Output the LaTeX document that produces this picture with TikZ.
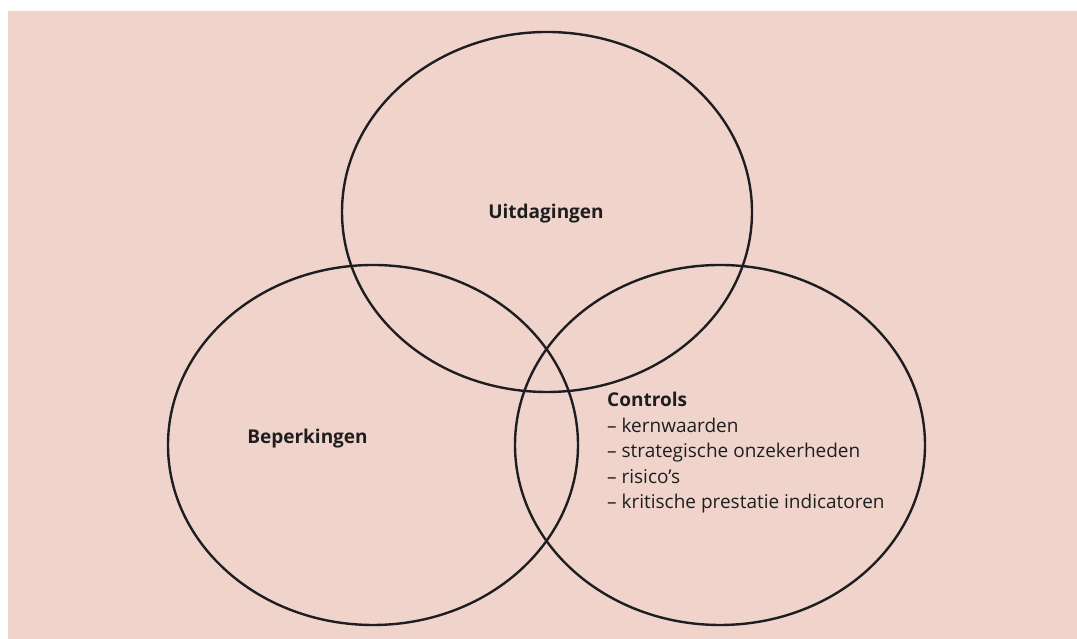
\documentclass[tikz,border=0pt]{standalone}
\usepackage{fontspec}
\setmainfont{Open Sans}
\usetikzlibrary{shapes.geometric}
\definecolor{bgpink}{RGB}{240,212,204}
\definecolor{inkdark}{RGB}{30,30,32}
\tikzset{
  venn/.style={ellipse, draw=inkdark, line width=2.4pt, minimum width=410pt, minimum height=360pt, inner sep=0pt},
  lbl/.style={text=inkdark, font=\fontsize{19}{25.5}\selectfont, inner sep=0pt}
}
\begin{document}
\begin{tikzpicture}[x=1pt,y=1pt]
\useasboundingbox (0,0) rectangle (1077,639);
\fill[bgpink] (8,0) rectangle (1077,628);
\node[venn] (top) at (547,427) {};
\node[venn] (left) at (373,194) {};
\node[venn] (right) at (720,194) {};
\node[lbl, font=\fontsize{19}{25.5}\selectfont\bfseries] (tl) at (546,425) {Uitdagingen};
\node[lbl, font=\fontsize{19}{25.5}\selectfont\bfseries] (ll) at (307.5,200) {Beperkingen};
\node[lbl, anchor=north west, align=left] (rl) at (607,247) {\textbf{Controls}\\– kernwaarden\\– strategische onzekerheden\\– risico’s\\– kritische prestatie indicatoren};
\end{tikzpicture}
\end{document}
